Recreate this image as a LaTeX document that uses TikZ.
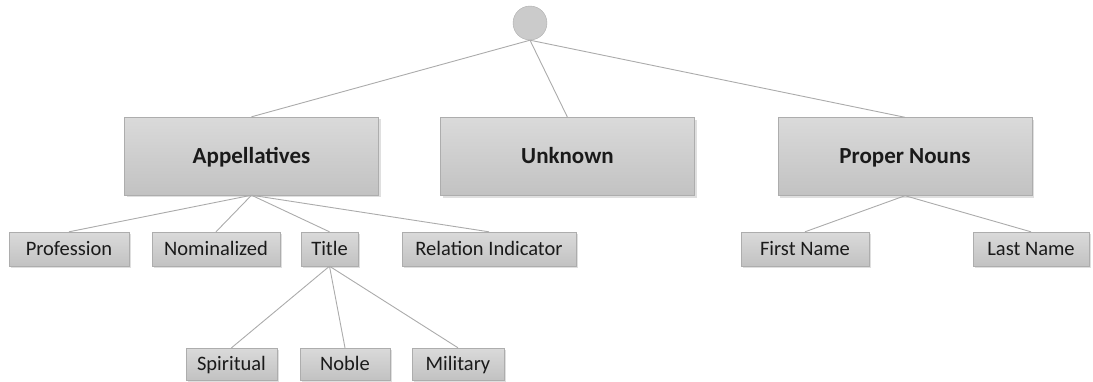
\documentclass[tikz,border=0pt]{standalone}
\usepackage{fontspec}
\setmainfont{Carlito}
\usetikzlibrary{shadows}

\definecolor{boxtop}{HTML}{DADADA}
\definecolor{boxbot}{HTML}{C2C2C2}
\definecolor{boxline}{HTML}{ADADAD}
\definecolor{linkgray}{HTML}{ABABAB}
\definecolor{txt}{HTML}{1A1A1A}

\tikzset{
  box/.style={draw=boxline, top color=boxtop, bottom color=boxbot, inner sep=0pt, text=txt,
              drop shadow={shadow xshift=2pt, shadow yshift=-2pt, opacity=0.25}},
  bigbox/.style={box, minimum width=254pt, minimum height=78pt,
                 text height=16.5pt, text depth=1.7pt,
                 font=\fontsize{23}{27}\selectfont\bfseries},
  leaf/.style={box, minimum height=#1, text height=15pt, text depth=1.8pt,
               font=\fontsize{20.5}{24}\selectfont},
  leaf/.default=34pt,
  link/.style={draw=linkgray, line width=0.9pt}
}

\begin{document}
\begin{tikzpicture}[x=1pt, y=-1pt]
  \useasboundingbox (0,0) rectangle (1093,381);

  % root
  \node[circle, draw=boxline, fill=boxbot!85!white, minimum size=34pt, inner sep=0pt] (root) at (530,23) {};

  % categories
  \node[bigbox] (app) at (251.5,156) {Appellatives};
  \node[bigbox] (unk) at (567.5,156.5) {Unknown};
  \node[bigbox] (prop) at (905,156.5) {Proper Nouns};

  % appellative kinds
  \node[leaf, minimum width=120pt] (prof) at (69,249) {Profession};
  \node[leaf, minimum width=128pt] (nomi) at (216,249) {Nominalized};
  \node[leaf, minimum width=57pt] (title) at (329.5,249) {Title};
  \node[leaf, minimum width=174pt] (rel) at (489,249) {Relation Indicator};

  % titles
  \node[leaf=32pt, minimum width=91pt] (spir) at (231.5,364) {Spiritual};
  \node[leaf=32pt, minimum width=90pt] (noble) at (345,364) {Noble};
  \node[leaf=32pt, minimum width=92pt] (mil) at (458,364) {Military};

  % names
  \node[leaf, minimum width=128pt] (first) at (805,249) {First Name};
  \node[leaf, minimum width=116pt] (last) at (1031,249) {Last Name};

  \foreach \a/\b in {root/app, root/unk, root/prop,
                     app/prof, app/nomi, app/title, app/rel,
                     title/spir, title/noble, title/mil,
                     prop/first, prop/last}
    \draw[link] (\a.south) -- (\b.north);
\end{tikzpicture}
\end{document}
